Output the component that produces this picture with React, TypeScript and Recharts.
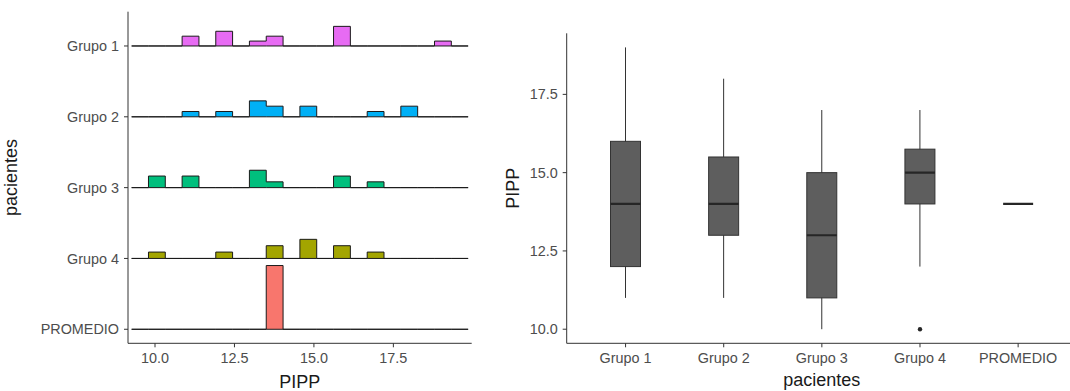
import React from 'react';
import { ComposedChart, Area, Bar, Scatter, XAxis, YAxis } from 'recharts';

// ---------- data ----------
const GROUPS = ['Grupo 1', 'Grupo 2', 'Grupo 3', 'Grupo 4', 'PROMEDIO'];
const COLORS = ['#E76BF3', '#00B0F6', '#00BF7D', '#A3A500', '#F8766D'];
const GRUPO_1 = [11, 11, 12, 12, 12, 13, 14, 14, 16, 16, 16, 16, 19];
const GRUPO_2 = [11, 12, 13, 13, 13, 14, 14, 15, 15, 17, 18, 18];
const GRUPO_3 = [10, 10, 11, 11, 13, 13, 13, 14, 16, 16, 17];
const GRUPO_4 = [10, 12, 14, 14, 15, 15, 15, 16, 16, 17];
const PROMEDIO = [14];
const VALUES = [GRUPO_1, GRUPO_2, GRUPO_3, GRUPO_4, PROMEDIO];
const PIPP_TICKS = [10, 12.5, 15, 17.5];
const RIDGE_TICKS = [0, 1, 2, 3, 4];
const BINS = 18;
const RIDGE_SCALE = 0.9;

// ---------- histogram (ggplot-style bins, padded) ----------
const all = VALUES.flat();
const vMin = Math.min(...all);
const vMax = Math.max(...all);
const binW = (vMax - vMin) / (BINS - 1);
const boundary = binW / 2;
const origin = boundary + Math.floor((vMin - boundary) / binW) * binW;
const nBins = Math.ceil((vMax - origin) / binW);
const counts = VALUES.map((vals) => {
  const c = new Array(nBins + 2).fill(0);
  vals.forEach((v) => {
    const k = Math.ceil((v - origin) / binW) - 1;
    c[k + 1] += 1;
  });
  return c;
});
const fracs = counts.map((c, gi) => c.map((n) => n / VALUES[gi].length));
const maxFrac = Math.max(...fracs.flat());
const ridgeData = Array.from({ length: nBins + 3 }, (_, j) => {
  const row: any = { x: origin - binW + j * binW };
  GROUPS.forEach((_, gi) => {
    const base = GROUPS.length - 1 - gi;
    const f = j < nBins + 2 ? fracs[gi][j] : 0;
    row['r' + gi] = [base, base + (RIDGE_SCALE * f) / maxFrac];
  });
  return row;
});

// ---------- boxplot stats ----------
function quantile(s: number[], p: number) {
  const pos = (s.length - 1) * p;
  const lo = Math.floor(pos);
  const hi = Math.ceil(pos);
  return s[lo] + (s[hi] - s[lo]) * (pos - lo);
}
const boxData = GROUPS.map((name, gi) => {
  const s = [...VALUES[gi]].sort((a, b) => a - b);
  const q1 = quantile(s, 0.25);
  const med = quantile(s, 0.5);
  const q3 = quantile(s, 0.75);
  const iqr = q3 - q1;
  const inside = s.filter((v) => v >= q1 - 1.5 * iqr && v <= q3 + 1.5 * iqr);
  const outs = s.filter((v) => v < q1 - 1.5 * iqr || v > q3 + 1.5 * iqr);
  return {
    name,
    box: [q1, q3],
    whisker: [Math.min(...inside), Math.max(...inside)],
    median: med,
    outlier: outs.length ? outs[0] : null,
  };
});

// ---------- styles ----------
const FONT = '"Liberation Sans", Arial, Helvetica, sans-serif';
const TICK = { fontSize: 14.4, fill: '#4D4D4D' };
const AXIS_LINE = { stroke: '#333333', strokeWidth: 1 };
const TITLE = { fontSize: 18, fill: '#1A1A1A' };
const BOX_W = 30;

const BoxShape = (p: any) => (
  <rect x={p.x} y={p.y} width={p.width} height={Math.max(p.height || 0, 0)} fill="#5E5E5E" stroke="#333333" strokeWidth={1} />
);
const WhiskerShape = (p: any) => (
  <line x1={p.x + p.width / 2} x2={p.x + p.width / 2} y1={p.y} y2={p.y + Math.max(p.height || 0, 0)} stroke="#333333" strokeWidth={1} />
);
const MedianShape = (p: any) => (
  <line x1={p.cx - BOX_W / 2} x2={p.cx + BOX_W / 2} y1={p.cy} y2={p.cy} stroke="#262626" strokeWidth={2.2} />
);
const OutlierShape = (p: any) =>
  p.payload && p.payload.outlier != null && isFinite(p.cy) ? <circle cx={p.cx} cy={p.cy} r={2.2} fill="#262626" /> : <g />;

export default function App() {
  return (
    <div style={{ position: 'fixed', left: 0, top: 0, width: 1070, height: 391, overflow: 'hidden', background: '#fff', fontFamily: FONT }}>
      <div style={{ position: 'absolute', left: 0, top: 0 }}>
        <ComposedChart width={490} height={391} data={ridgeData} margin={{ top: 11.7, right: 18.3, bottom: 0, left: 0 }}>
          <XAxis
            type="number"
            dataKey="x"
            domain={[9.15, 19.965]}
            allowDataOverflow
            ticks={PIPP_TICKS}
            tickFormatter={(v: number) => v.toFixed(1)}
            height={47.7}
            tick={TICK}
            tickSize={4}
            tickMargin={5}
            axisLine={AXIS_LINE}
            tickLine={AXIS_LINE}
            label={{ value: 'PIPP', position: 'insideBottom', offset: 3, style: TITLE }}
          />
          <YAxis
            type="number"
            domain={[-0.198, 4.484]}
            allowDataOverflow
            ticks={RIDGE_TICKS}
            tickFormatter={(v: number) => GROUPS[GROUPS.length - 1 - v]}
            width={128}
            tick={TICK}
            tickSize={4}
            tickMargin={5}
            axisLine={AXIS_LINE}
            tickLine={AXIS_LINE}
            label={{ value: 'pacientes', angle: -90, position: 'insideLeft', offset: 11, style: { ...TITLE, textAnchor: 'middle' } }}
          />
          {GROUPS.map((g, gi) => (
            <Area
              key={g}
              dataKey={'r' + gi}
              type="stepAfter"
              stroke="#1A1A1A"
              strokeWidth={1}
              fill={COLORS[gi]}
              fillOpacity={1}
              isAnimationActive={false}
              dot={false}
              activeDot={false}
            />
          ))}
        </ComposedChart>
      </div>
      <div style={{ position: 'absolute', left: 490, top: 0 }}>
        <ComposedChart width={600} height={391} data={boxData} margin={{ top: 33.3, right: 13, bottom: 0, left: 0 }}>
          <XAxis
            dataKey="name"
            type="category"
            padding={{ left: 9.8, right: 9.8 }}
            height={47.7}
            tick={TICK}
            tickSize={4}
            tickMargin={5}
            axisLine={AXIS_LINE}
            tickLine={AXIS_LINE}
            interval={0}
            label={{ value: 'pacientes', position: 'insideBottom', offset: 5, style: TITLE }}
          />
          <XAxis xAxisId="w" dataKey="name" type="category" padding={{ left: 9.8, right: 9.8 }} hide />
          <YAxis
            type="number"
            domain={[9.55, 19.45]}
            allowDataOverflow
            ticks={PIPP_TICKS}
            tickFormatter={(v: number) => v.toFixed(1)}
            width={76.7}
            tick={TICK}
            tickSize={4}
            tickMargin={5}
            axisLine={AXIS_LINE}
            tickLine={AXIS_LINE}
            label={{ value: 'PIPP', angle: -90, position: 'insideLeft', offset: 23, style: { ...TITLE, textAnchor: 'middle' } }}
          />
          <Bar xAxisId="w" dataKey="whisker" barSize={BOX_W} shape={WhiskerShape} isAnimationActive={false} />
          <Bar dataKey="box" barSize={BOX_W} shape={BoxShape} isAnimationActive={false} />
          <Scatter dataKey="median" shape={MedianShape} isAnimationActive={false} />
          <Scatter dataKey="outlier" shape={OutlierShape} isAnimationActive={false} />
        </ComposedChart>
      </div>
    </div>
  );
}
